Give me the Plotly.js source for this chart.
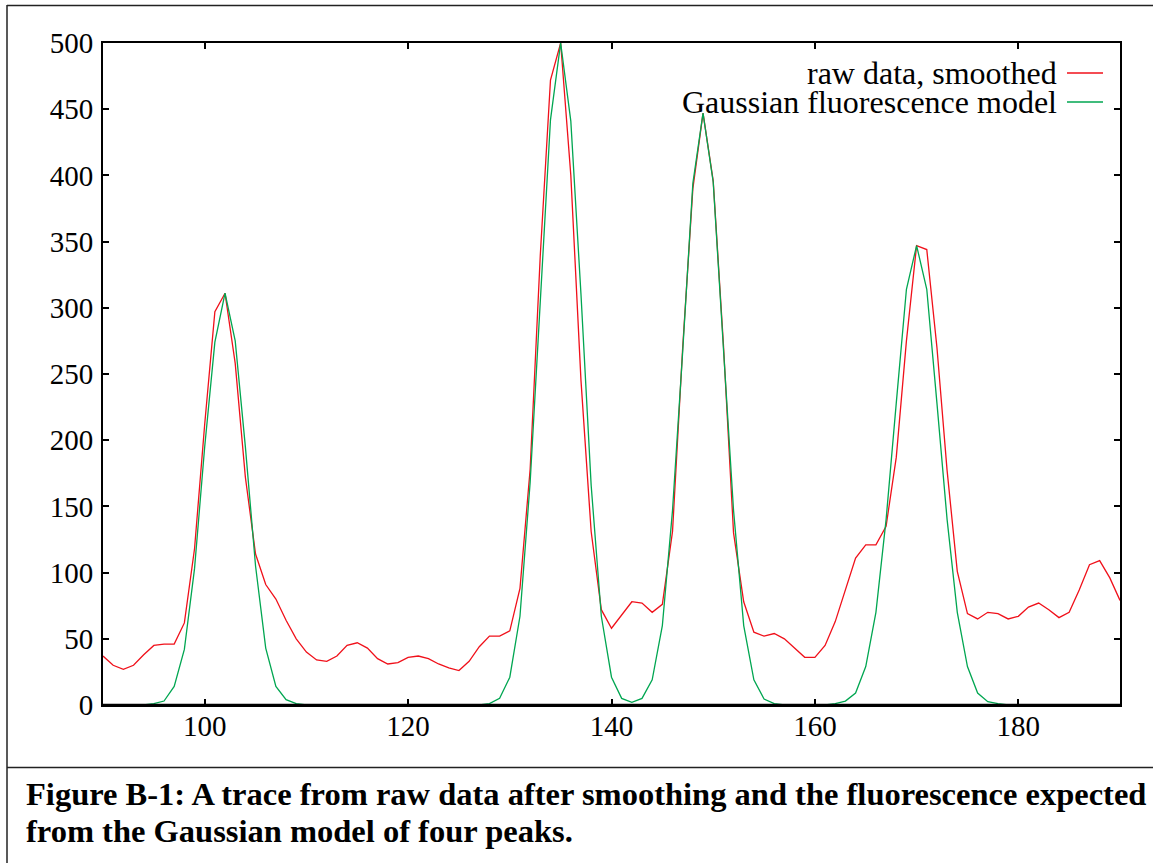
<!DOCTYPE html>
<html>
<head>
<meta charset="utf-8">
<script src="https://cdn.plot.ly/plotly-3.0.1.min.js"></script>
<style>
  html, body { margin: 0; padding: 0; background: #ffffff; }
  #chart { width: 1153px; height: 863px; }
</style>
</head>
<body>
<div id="chart"></div>
<script>
// ---- data ----
const xValues = [
  90, 91, 92, 93, 94, 95, 96, 97, 98, 99,
  100, 101, 102, 103, 104, 105, 106, 107, 108, 109,
  110, 111, 112, 113, 114, 115, 116, 117, 118, 119,
  120, 121, 122, 123, 124, 125, 126, 127, 128, 129,
  130, 131, 132, 133, 134, 135, 136, 137, 138, 139,
  140, 141, 142, 143, 144, 145, 146, 147, 148, 149,
  150, 151, 152, 153, 154, 155, 156, 157, 158, 159,
  160, 161, 162, 163, 164, 165, 166, 167, 168, 169,
  170, 171, 172, 173, 174, 175, 176, 177, 178, 179,
  180, 181, 182, 183, 184, 185, 186, 187, 188, 189,
  190
];
const rawSmoothed = [
  37, 30, 27, 30, 38, 45, 46, 46, 62, 118,
  212, 297, 311, 258, 172, 114, 91, 80, 64, 50,
  40, 34, 33, 37, 45, 47, 43, 35, 31, 32,
  36, 37, 35, 31, 28, 26, 33, 44, 52, 52,
  56, 88, 178, 340, 472, 500, 400, 245, 131, 72,
  58, 68, 78, 77, 70, 76, 131, 270, 390, 447,
  396, 273, 130, 78, 55, 52, 54, 50, 43, 36,
  36, 45, 63, 87, 111, 121, 121, 135, 187, 275,
  347, 344, 270, 177, 101, 69, 65, 70, 69, 65,
  67, 74, 77, 72, 66, 70, 87, 106, 109, 96,
  79
];
const gaussianModel = [
  0, 0, 0, 0, 0, 1, 3, 14, 42, 103,
  195, 274, 311, 275, 195, 105, 43, 14, 4, 1,
  0, 0, 0, 0, 0, 0, 0, 0, 0, 0,
  0, 0, 0, 0, 0, 0, 0, 0, 1, 5,
  21, 67, 168, 310, 442, 500, 441, 310, 166, 67,
  21, 5, 2, 5, 19, 60, 147, 267, 394, 447,
  395, 270, 147, 60, 19, 4.5, 1, 0, 0, 0,
  0, 0, 1, 3, 9, 29, 70, 140, 228, 314,
  347, 314, 228, 140, 70, 29, 9, 2.5, 1, 0,
  0, 0, 0, 0, 0, 0, 0, 0, 0, 0,
  0
];
const seriesNames = ["raw data, smoothed", "Gaussian fluorescence model"];
const xTickVals = [100, 120, 140, 160, 180];
const yTickVals = [0, 50, 100, 150, 200, 250, 300, 350, 400, 450, 500];
const captionLines = [
  "Figure B-1: A trace from raw data after smoothing and the fluorescence expected",
  "from the Gaussian model of four peaks."
];

// ---- style ----
const RED = "#f0101a";
const GREEN = "#00a651";
const FONT = "Liberation Serif, Times New Roman, serif";

const W = 1153, H = 863;
const M = { l: 103, r: 33, t: 43, b: 158 };
const PW = W - M.l - M.r, PH = H - M.t - M.b;
const px = (x) => (x - M.l) / PW;
const py = (y) => (H - M.b - y) / PH;

const traces = [
  { x: xValues, y: rawSmoothed, name: seriesNames[0], type: "scatter", mode: "lines",
    line: { color: RED, width: 1.3 }, showlegend: false },
  { x: xValues, y: gaussianModel, name: seriesNames[1], type: "scatter", mode: "lines",
    line: { color: GREEN, width: 1.3 }, showlegend: false }
];

const axisCommon = {
  showgrid: false, zeroline: false, showline: true, linewidth: 2, linecolor: "#000",
  mirror: "ticks", ticks: "inside", ticklen: 6, tickwidth: 2, tickcolor: "#000",
  tickfont: { family: FONT, size: 29, color: "#000" }, layer: "above traces"
};

const legendY = [73, 102];
const shapes = [
  // outer frame
  { type: "line", xref: "paper", yref: "paper", x0: px(7), x1: px(7), y0: py(5), y1: py(900), line: { color: "#222", width: 1.5 } },
  { type: "line", xref: "paper", yref: "paper", x0: px(7), x1: px(1200), y0: py(5.5), y1: py(5.5), line: { color: "#222", width: 1.5 } },
  { type: "line", xref: "paper", yref: "paper", x0: px(7), x1: px(1200), y0: py(767.5), y1: py(767.5), line: { color: "#222", width: 1.5 } },
  // bottom axis drawn over the zero-valued model segments, as in the original
  { type: "line", xref: "paper", yref: "paper", x0: 0, x1: 1, y0: py(705), y1: py(705), layer: "above", line: { color: "#000", width: 2.5 } }
];
const annotations = [];
seriesNames.forEach((name, i) => {
  shapes.push({ type: "line", xref: "paper", yref: "paper", x0: px(1067), x1: px(1103),
    y0: py(legendY[i]), y1: py(legendY[i]), line: { color: i === 0 ? RED : GREEN, width: 1.3 } });
  annotations.push({ xref: "paper", yref: "paper", x: px(1058), y: py(legendY[i]),
    xanchor: "right", yanchor: "middle", showarrow: false, text: name, borderpad: 0,
    font: { family: FONT, size: 32, color: "#000" } });
});
const captionY = [794, 831];
captionLines.forEach((line, i) => {
  annotations.push({ xref: "paper", yref: "paper", x: px(24), y: py(captionY[i]), xanchor: "left", yanchor: "middle",
    align: "left", showarrow: false, text: "<b>" + line + "</b>",
    font: { family: FONT, size: 32.5, color: "#000" } });
});

const layout = {
  width: W, height: H, margin: M,
  paper_bgcolor: "#fff", plot_bgcolor: "#fff",
  showlegend: false,
  xaxis: Object.assign({}, axisCommon, { range: [90, 190], tickmode: "array", tickvals: xTickVals, ticklabelstandoff: -6 }),
  yaxis: Object.assign({}, axisCommon, { range: [0, 500], tickmode: "array", tickvals: yTickVals, ticklabelstandoff: 2 }),
  shapes: shapes, annotations: annotations
};

Plotly.newPlot("chart", traces, layout, { staticPlot: true, displayModeBar: false });
</script>
</body>
</html>
